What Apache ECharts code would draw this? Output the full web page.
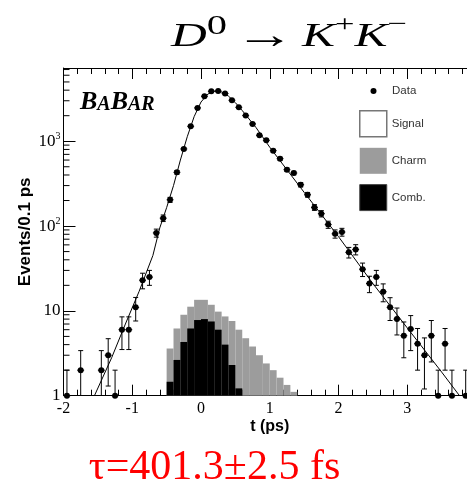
<!DOCTYPE html>
<html>
<head>
<meta charset="utf-8">
<script src="https://cdn.jsdelivr.net/npm/echarts@6/dist/echarts.min.js"></script>
<style>
  html, body { margin: 0; padding: 0; background: #fff; }
  #chart { width: 467px; height: 490px; }
</style>
</head>
<body>
<div id="chart"></div>
<script>
// data points: bin centre (ps), events, error
const dataT = [-1.95, -1.75, -1.45, -1.35, -1.25, -1.15, -1.05, -0.95, -0.85, -0.75,
  -0.65, -0.55, -0.45, -0.35, -0.25, -0.15, -0.05, 0.05, 0.15, 0.25,
  0.35, 0.45, 0.55, 0.65, 0.75, 0.85, 0.95, 1.05, 1.15, 1.25,
  1.35, 1.45, 1.55, 1.65, 1.75, 1.85, 1.95, 2.05, 2.15, 2.25,
  2.35, 2.45, 2.55, 2.65, 2.75, 2.85, 2.95, 3.05, 3.15, 3.25,
  3.35, 3.45, 3.55, 3.65, 3.85];
const dataN = [1, 2, 2, 3, 1, 6, 6, 11, 23, 25,
  83, 124, 204, 430, 811, 1500, 2470, 3390, 3880, 3900,
  3650, 3040, 2510, 2005, 1600, 1175, 1025, 774, 623, 462,
  422, 307, 234, 166, 140, 104, 81, 85, 49, 53,
  31, 21, 25, 16.8, 11, 8, 5.1, 6.1, 4.1, 3,
  5.1, 1, 4.1, 1, 1];
const dataErr = [1, 1.4, 1.4, 1.7, 1, 2.5, 2.5, 3.4, 4.8, 5,
  9, 11, 14, 21, 28, 39, 50, 58, 62, 62,
  60, 55, 50, 45, 40, 34, 32, 28, 25, 21,
  20, 18, 15, 13, 12, 10, 9, 9, 7, 7.3,
  5.6, 4.6, 5, 4, 3.3, 2.8, 2.3, 2.7, 2.1, 1.8,
  2.6, 1, 2.1, 1, 1];

// fitted signal curve
const fitT = [-1.55, -1.3, -1.1, -0.9, -0.7, -0.6, -0.5, -0.4, -0.3, -0.2, -0.1, 0,
  0.1, 0.2, 0.3, 0.4, 0.5, 0.6, 0.8, 1.0, 1.5, 2.0, 2.5, 3.0, 3.5, 3.76];
const fitN = [1, 2.8, 7, 17, 45, 95, 165, 300, 600, 1130, 1950, 2900,
  3600, 3900, 3800, 3400, 2850, 2300, 1450, 850, 250, 75, 21, 6.3, 1.9, 1];

// background histograms (0.1 ps bins)
const binEdges = [-0.5, -0.4, -0.3, -0.2, -0.1, 0, 0.1, 0.2, 0.3, 0.4,
  0.5, 0.6, 0.7, 0.8, 0.9, 1.0, 1.1, 1.2, 1.3, 1.4];
const charmTop = [3.6, 6.2, 9, 11.2, 13.5, 13.5, 11.8, 9.8, 8.6, 7.6,
  6, 4.76, 3.8, 3, 2.4, 2, 1.63, 1.34, 1.11];
const combN = [1.46, 2.64, 4.3, 6.2, 7.8, 8, 7.5, 6, 4, 2.3, 1.22];

// log axis minor ticks
const yMinorTicks = [2, 3, 4, 5, 6, 7, 8, 9, 20, 30, 40, 50, 60, 70, 80, 90,
  200, 300, 400, 500, 600, 700, 800, 900, 2000, 3000, 4000, 5000, 6000, 7000];

const xMin = -2, xMax = 4, yMin = 1, yMax = 7300;

const chart = echarts.init(document.getElementById('chart'));

function histItem(color) {
  return function (params, api) {
    const p0 = api.coord([api.value(0), api.value(2)]);
    const p1 = api.coord([api.value(1), yMin]);
    return {
      type: 'rect',
      shape: { x: p0[0], y: p0[1], width: p1[0] - p0[0], height: p1[1] - p0[1] },
      style: { fill: color }
    };
  };
}

const xAxisBase = {
  type: 'value',
  min: xMin,
  max: xMax,
  interval: 1,
  axisLine: { onZero: false, lineStyle: { color: '#000', width: 1 } },
  axisTick: { inside: true, length: 11, lineStyle: { color: '#000' } },
  minorTick: { show: true, splitNumber: 5, length: 6, lineStyle: { color: '#000' } },
  splitLine: { show: false },
};

chart.setOption({
  animation: false,
  // the right edge of the frame (t = 4) lies just outside the picture
  grid: { left: 63.5, width: 412.5, top: 68, bottom: 94.3, containLabel: false, outerBoundsMode: 'none' },
  xAxis: [
    Object.assign({}, xAxisBase, {
      position: 'bottom',
      name: 't (ps)',
      nameLocation: 'middle',
      nameGap: 23,
      nameMoveOverlap: false,
      nameTextStyle: { fontFamily: 'Liberation Sans', fontWeight: 'bold', fontSize: 16, color: '#000' },
      axisLabel: {
        margin: 5,
        fontFamily: 'Liberation Serif', fontSize: 16, color: '#000',
        formatter: v => Number.isInteger(v) ? String(v) : ''
      },
    }),
    Object.assign({}, xAxisBase, {
      position: 'top',
      axisLabel: { show: false },
    })
  ],
  yAxis: {
    type: 'log',
    logBase: 10,
    min: yMin,
    max: yMax,
    name: 'Events/0.1 ps',
    nameLocation: 'middle',
    nameGap: 30,
    nameMoveOverlap: false,
    nameTextStyle: { fontFamily: 'Liberation Sans', fontWeight: 'bold', fontSize: 17, color: '#000' },
    axisLine: { onZero: false, lineStyle: { color: '#000', width: 1 } },
    axisTick: { inside: true, length: 12, lineStyle: { color: '#000' } },
    splitLine: { show: false },
    axisLabel: {
      margin: 3,
      formatter: function (v) {
        const e = Math.round(Math.log10(v));
        if (Math.abs(v - Math.pow(10, e)) > 1e-6 * v) return '';
        if (e === 0) return '{n|1}';
        if (e === 1) return '{n|10}';
        return '{n|10}{s|' + e + '}';
      },
      rich: {
        n: { fontFamily: 'Liberation Serif', fontSize: 17, color: '#000', lineHeight: 20 },
        s: { fontFamily: 'Liberation Serif', fontSize: 10, color: '#000', lineHeight: 12, verticalAlign: 'top' }
      }
    }
  },
  legend: [
    {
      data: [{ name: 'Data', icon: 'circle', itemStyle: { color: '#000' } }],
      left: 370.5, top: 85, padding: 0,
      itemWidth: 27, itemHeight: 6,
      selectedMode: false,
      textStyle: { fontFamily: 'Liberation Sans', fontSize: 11.5, color: '#333' }
    },
    {
      data: [
        { name: 'Signal', icon: 'rect', itemStyle: { color: '#fff', borderColor: '#777', borderWidth: 1.5 } },
        { name: 'Charm', icon: 'rect', itemStyle: { color: '#9c9c9c' } },
        { name: 'Comb.', icon: 'rect', itemStyle: { color: '#000', borderColor: '#444', borderWidth: 1 } }
      ],
      orient: 'vertical',
      left: 359, top: 110, padding: 0,
      itemWidth: 27, itemHeight: 26, itemGap: 10.3,
      selectedMode: false,
      textStyle: { fontFamily: 'Liberation Sans', fontSize: 11.5, color: '#333' }
    }
  ],
  graphic: [
    {
      type: 'text', x: 289, y: 37, scaleX: 1.5, scaleY: 1,
      style: {
        text: '{i|D}{s|0}{a|\u2192}{i|K}{p|+}{i|K}{p|\u2212}',
        textAlign: 'center', align: 'center', textVerticalAlign: 'middle', verticalAlign: 'middle',
        rich: {
          i: { fontFamily: 'Liberation Serif', fontStyle: 'italic', fontSize: 33, lineHeight: 48, fill: '#000' },
          a: { fontFamily: 'Liberation Serif', fontSize: 40, lineHeight: 48, padding: [0, 5, 0, 5], fill: '#000' },
          s: { fontFamily: 'Liberation Serif', fontSize: 27, lineHeight: 14, verticalAlign: 'top', fill: '#000' },
          p: { fontFamily: 'Liberation Serif', fontSize: 23, lineHeight: 18, verticalAlign: 'top', fill: '#000' }
        }
      }
    },
    {
      type: 'text', x: 80, y: 101,
      style: {
        text: '{b|B}{s|A}{b|B}{s|AR}',
        textAlign: 'left', align: 'left', textVerticalAlign: 'middle', verticalAlign: 'middle',
        rich: {
          b: { fontFamily: 'Liberation Serif', fontStyle: 'italic', fontWeight: 'bold', fontSize: 26, lineHeight: 28, fill: '#000', verticalAlign: 'bottom' },
          s: { fontFamily: 'Liberation Serif', fontStyle: 'italic', fontWeight: 'bold', fontSize: 20, lineHeight: 22, fill: '#000', verticalAlign: 'bottom' }
        }
      }
    },
    {
      type: 'text', x: 214.5, y: 468,
      style: {
        text: '\u03c4=401.3\u00b12.5 fs',
        textAlign: 'center', align: 'center', textVerticalAlign: 'middle', verticalAlign: 'middle',
        fontFamily: 'Liberation Serif', fontSize: 42, fill: '#ff0000'
      }
    }
  ],
  series: [
    {
      name: 'Charm', type: 'custom', z: 1,
      data: charmTop.map((v, i) => [binEdges[i], binEdges[i + 1], v]),
      encode: { x: [0, 1], y: 2 },
      renderItem: histItem('#9c9c9c')
    },
    {
      name: 'Comb.', type: 'custom', z: 2,
      data: combN.map((v, i) => [binEdges[i], binEdges[i + 1], v]),
      encode: { x: [0, 1], y: 2 },
      renderItem: histItem('#000')
    },
    {
      name: 'Signal', type: 'line', z: 3,
      data: fitT.map((t, i) => [t, fitN[i]]),
      showSymbol: false,
      lineStyle: { color: '#000', width: 1 },
      itemStyle: { color: '#000' }
    },
    {
      name: 'Data', type: 'custom', z: 4,
      data: dataT.map((t, i) => [t, dataN[i], dataErr[i]]),
      encode: { x: 0, y: 1 },
      renderItem: function (params, api) {
        const t = api.value(0), n = api.value(1), e = api.value(2);
        const c = api.coord([t, n]);
        const hi = api.coord([t, n + e]);
        const lo = api.coord([t, Math.max(n - e, yMin)]);
        const xl = api.coord([t - 0.05, n])[0];
        const xr = api.coord([t + 0.05, n])[0];
        const st = { stroke: '#000', lineWidth: 1 };
        const kids = [
          { type: 'line', shape: { x1: c[0], y1: hi[1], x2: c[0], y2: lo[1] }, style: st },
          { type: 'line', shape: { x1: c[0] - 2.5, y1: hi[1], x2: c[0] + 2.5, y2: hi[1] }, style: st },
          { type: 'line', shape: { x1: xl, y1: c[1], x2: xr, y2: c[1] }, style: st },
          { type: 'circle', shape: { cx: c[0], cy: c[1], r: 3 }, style: { fill: '#000' } }
        ];
        if (n - e > yMin) {
          kids.push({ type: 'line', shape: { x1: c[0] - 2.5, y1: lo[1], x2: c[0] + 2.5, y2: lo[1] }, style: st });
        }
        return { type: 'group', children: kids };
      }
    },
    {
      // minor ticks of the log axis
      type: 'custom', silent: true, z: 6,
      data: yMinorTicks.map(v => [xMin, v]),
      encode: { x: 0, y: 1 },
      renderItem: function (params, api) {
        const p = api.coord([api.value(0), api.value(1)]);
        return { type: 'line', shape: { x1: p[0], y1: p[1], x2: p[0] + 6, y2: p[1] }, style: { stroke: '#000', lineWidth: 1 } };
      }
    }
  ]
});
</script>
</body>
</html>
